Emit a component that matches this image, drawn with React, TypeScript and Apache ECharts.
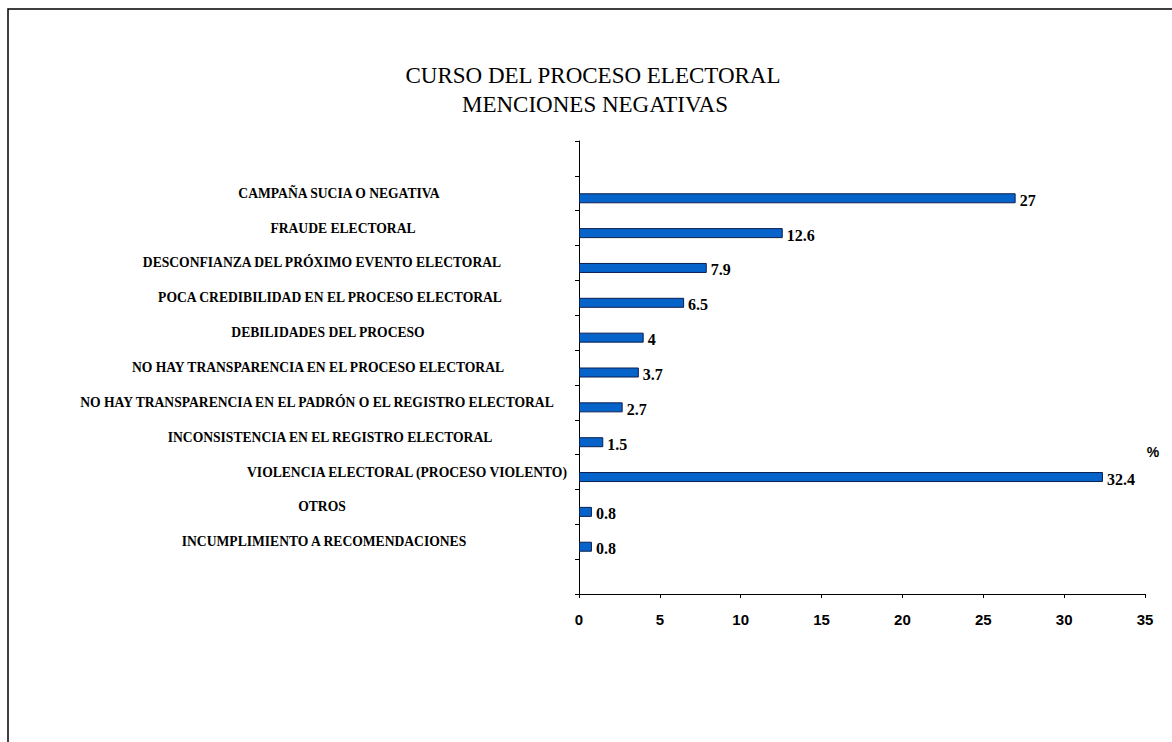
import React, { useEffect, useRef } from "react";
import * as echarts from "echarts";

const titleLines = ["CURSO DEL PROCESO ELECTORAL", "MENCIONES NEGATIVAS"];
const categories = [
  "",
  "CAMPAÑA SUCIA O NEGATIVA",
  "FRAUDE ELECTORAL",
  "DESCONFIANZA DEL PRÓXIMO EVENTO ELECTORAL",
  "POCA CREDIBILIDAD EN EL PROCESO ELECTORAL",
  "DEBILIDADES DEL PROCESO",
  "NO HAY TRANSPARENCIA EN EL PROCESO ELECTORAL",
  "NO HAY TRANSPARENCIA EN EL PADRÓN O EL REGISTRO ELECTORAL",
  "INCONSISTENCIA EN EL REGISTRO ELECTORAL",
  "VIOLENCIA ELECTORAL (PROCESO VIOLENTO)",
  "OTROS",
  "INCUMPLIMIENTO A RECOMENDACIONES",
  "",
];
// horizontal nudge of each category label (px, + = right), as seen in the reference
const labelShift = [0, 19, 23, 2, 10, 8, -2, -3, 10, 87, 2, 4, 0];
const values = [null, 27, 12.6, 7.9, 6.5, 4, 3.7, 2.7, 1.5, 32.4, 0.8, 0.8, null];
const emptySeries = categories.map(() => null);
const unitLabel = "%";

export default function App() {
  const ref = useRef<HTMLDivElement>(null);
  useEffect(() => {
    document.body.style.margin = "0";
    const chart = echarts.init(ref.current!, null, { renderer: "svg" });
    const serif = "Liberation Serif, DejaVu Serif, serif";
    const catData = categories.map((c, i) => {
      const s = labelShift[i];
      return {
        value: c,
        textStyle: {
          align: "center",
          padding: s >= 0 ? [0, 0, 0, 2 * s] : [0, -2 * s, 0, 0],
        },
      };
    });
    const titleStyle = {
      fontFamily: serif,
      fontSize: 23,
      fontWeight: 400,
      color: "#000",
    };
    chart.setOption({
      animation: false,
      backgroundColor: "#ffffff",
      title: [
        { text: titleLines[0], left: 593, top: 64, textAlign: "center", padding: 0, textStyle: titleStyle },
        { text: titleLines[1], left: 595, top: 93, textAlign: "center", padding: 0, textStyle: titleStyle },
      ],
      grid: {
        left: 579,
        right: 27,
        top: 141,
        bottom: 148,
        containLabel: false,
        outerBoundsMode: "none",
      },
      xAxis: {
        type: "value",
        min: 0,
        max: 35,
        interval: 5,
        splitLine: { show: false },
        axisLine: { show: true, lineStyle: { color: "#000", width: 1 } },
        axisTick: { show: true, length: 4, lineStyle: { color: "#000" } },
        axisLabel: {
          margin: 18,
          fontFamily: "Liberation Sans, Arial, sans-serif",
          fontWeight: "bold",
          fontSize: 15,
          color: "#000",
        },
      },
      yAxis: {
        type: "category",
        inverse: true,
        data: catData,
        axisLine: { show: true, lineStyle: { color: "#000", width: 1 } },
        axisTick: { show: true, length: 4, alignWithLabel: false, lineStyle: { color: "#000" } },
        axisLabel: {
          interval: 0,
          align: "center",
          margin: 259,
          fontFamily: serif,
          fontWeight: "bold",
          fontSize: 13.6,
          color: "#000",
        },
      },
      series: [
        {
          type: "bar",
          data: emptySeries,
          barWidth: 10,
          barGap: "0%",
          silent: true,
        },
        {
          type: "bar",
          data: values,
          barWidth: 10,
          barGap: "0%",
          itemStyle: { color: "#0663C9", borderColor: "#0B1F50", borderWidth: 1 },
          label: {
            show: true,
            position: "right",
            distance: 4,
            offset: [0, 2],
            fontFamily: serif,
            fontWeight: "bold",
            fontSize: 16,
            color: "#000",
          },
        },
      ],
      graphic: [
        {
          type: "rect",
          shape: { x: 8, y: 9, width: 1300, height: 900 },
          style: { fill: "none", stroke: "#000", lineWidth: 1.5 },
          silent: true,
        },
        {
          type: "text",
          x: 1153,
          y: 452,
          style: {
            text: unitLabel,
            fontFamily: "Liberation Sans, Arial, sans-serif",
            fontSize: 14,
            fontWeight: "bold",
            fill: "#000",
            align: "center",
            verticalAlign: "middle",
          },
        },
      ],
    });
    return () => chart.dispose();
  }, []);
  return <div ref={ref} style={{ width: 1172, height: 742 }} />;
}
